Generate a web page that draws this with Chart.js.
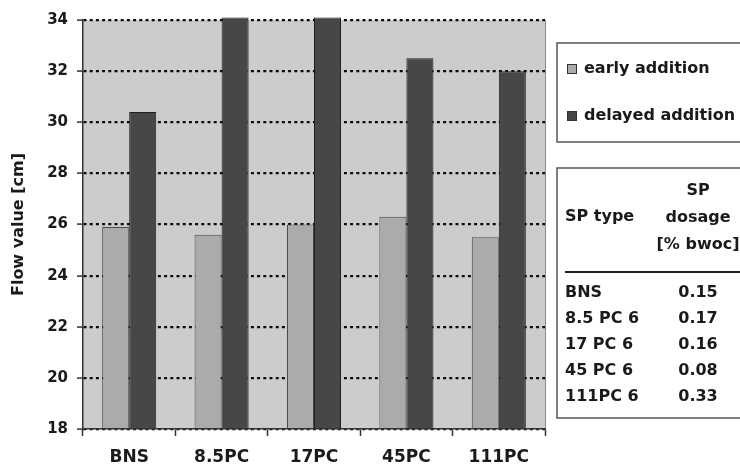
<!DOCTYPE html>
<html>
<head>
<meta charset="utf-8">
<script src="https://cdn.jsdelivr.net/npm/chart.js@4"></script>
<style>
  html, body { margin: 0; padding: 0; background: #fff; }
  #wrap { width: 740px; height: 469px; }
</style>
</head>
<body>
<div id="wrap"><canvas id="flowChart" width="740" height="469"></canvas></div>
<script>
const categories = ['BNS', '8.5PC', '17PC', '45PC', '111PC'];
const earlyAddition = [25.9, 25.6, 26.0, 26.3, 25.5];
const delayedAddition = [30.4, 34.1, 34.1, 32.5, 32.0];
const yTicks = [18, 20, 22, 24, 26, 28, 30, 32, 34];

// SP dosage table shown next to the chart
const spTypes = ['BNS', '8.5 PC 6', '17 PC 6', '45 PC 6', '111PC 6'];
const spDosage = ['0.15', '0.17', '0.16', '0.08', '0.33'];

const FONT = '"DejaVu Sans", sans-serif';
const INK = '#1a1a1a';

// grey plot background + thin right edge
const plotBackground = {
  id: 'plotBackground',
  beforeDraw(chart) {
    const { ctx, chartArea: a } = chart;
    ctx.save();
    ctx.fillStyle = '#cccccc';
    ctx.fillRect(a.left, a.top, a.right - a.left, a.bottom - a.top);
    ctx.strokeStyle = '#8a8a8a';
    ctx.lineWidth = 1;
    ctx.beginPath();
    ctx.moveTo(a.right + 0.5, a.top);
    ctx.lineTo(a.right + 0.5, a.bottom);
    ctx.stroke();
    ctx.restore();
  }
};

// boxed legend and the dosage table on the right
const sidePanel = {
  id: 'sidePanel',
  afterDraw(chart) {
    const ctx = chart.ctx;
    ctx.save();

    // legend box
    ctx.strokeStyle = '#555';
    ctx.lineWidth = 1.5;
    ctx.strokeRect(557, 43, 200, 99);
    const rows = [69, 116];
    chart.data.datasets.forEach((ds, i) => {
      ctx.fillStyle = ds.backgroundColor;
      ctx.fillRect(567, rows[i] - 5, 10, 10);
      ctx.strokeStyle = '#333';
      ctx.lineWidth = 1;
      ctx.strokeRect(567.5, rows[i] - 4.5, 9, 9);
      ctx.fillStyle = INK;
      ctx.font = 'bold 16px ' + FONT;
      ctx.textBaseline = 'middle';
      ctx.textAlign = 'left';
      ctx.fillText(ds.label, 584, rows[i]);
    });

    // table box
    ctx.strokeStyle = '#555';
    ctx.lineWidth = 1.5;
    ctx.strokeRect(557, 168, 200, 250);

    ctx.fillStyle = INK;
    ctx.font = 'bold 16px ' + FONT;
    ctx.textBaseline = 'middle';
    ctx.textAlign = 'left';
    ctx.fillText('SP type', 565, 217);
    ctx.textAlign = 'center';
    ctx.fillText('SP', 698, 191);
    ctx.fillText('dosage', 698, 218);
    ctx.fillText('[% bwoc]', 698, 245);

    ctx.strokeStyle = '#222';
    ctx.lineWidth = 2;
    ctx.beginPath();
    ctx.moveTo(565, 272);
    ctx.lineTo(745, 272);
    ctx.stroke();

    spTypes.forEach((t, i) => {
      const y = 293 + i * 26;
      ctx.textAlign = 'left';
      ctx.fillText(t, 565, y);
      ctx.textAlign = 'center';
      ctx.fillText(spDosage[i], 698, y);
    });

    ctx.restore();
  }
};

new Chart(document.getElementById('flowChart'), {
  type: 'bar',
  data: {
    labels: categories,
    datasets: [{
      label: 'early addition',
      data: earlyAddition,
      backgroundColor: '#ababab',
      borderColor: '#4a4a4a',
      borderWidth: 1,
      categoryPercentage: 0.585,
      barPercentage: 1.0,
      base: 18,
      clip: false
    }, {
      label: 'delayed addition',
      data: delayedAddition,
      backgroundColor: '#474747',
      borderColor: '#1e1e1e',
      borderWidth: 1,
      categoryPercentage: 0.585,
      barPercentage: 1.0,
      base: 18,
      clip: false
    }]
  },
  options: {
    responsive: false,
    animation: false,
    layout: { padding: { left: 0, right: 195, top: 20, bottom: 0 } },
    plugins: {
      legend: { display: false },
      tooltip: { enabled: false }
    },
    scales: {
      x: {
        grid: {
          drawOnChartArea: false,
          drawTicks: true,
          tickLength: 7,
          tickColor: '#333',
          tickWidth: 1.5
        },
        border: { color: '#333', width: 1.5 },
        ticks: {
          color: INK,
          padding: 11,
          font: { family: FONT, size: 17, weight: 'bold' }
        },
        afterFit(scale) { scale.height = 40; }
      },
      y: {
        min: 18,
        max: 34,
        afterBuildTicks(scale) { scale.ticks = yTicks.map(v => ({ value: v })); },
        grid: {
          color: '#0a0a0a',
          lineWidth: 2.2,
          tickLength: 6,
          tickColor: '#333',
          tickWidth: 1.5,
          tickBorderDash: []
        },
        border: { color: '#333', width: 1.5, dash: [3, 3.2] },
        ticks: {
          color: INK,
          padding: 9,
          font: { family: FONT, size: 15, weight: 'bold' }
        },
        title: {
          display: true,
          text: 'Flow value [cm]',
          color: INK,
          padding: { top: 9, bottom: 0 },
          font: { family: FONT, size: 16, weight: 'bold' }
        },
        afterFit(scale) { scale.width = 83; }
      }
    }
  },
  plugins: [plotBackground, sidePanel]
});
</script>
</body>
</html>
